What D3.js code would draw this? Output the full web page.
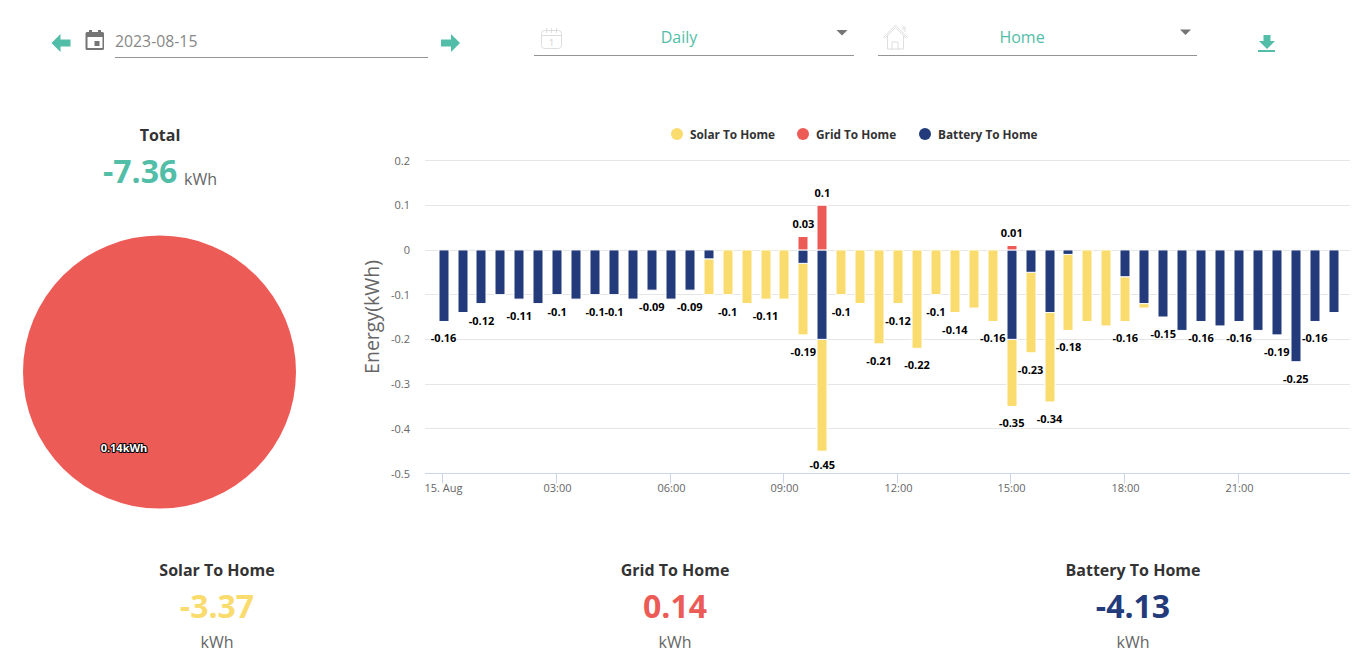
<!DOCTYPE html>
<html><head><meta charset="utf-8">
<script src="https://cdn.jsdelivr.net/npm/d3@7/dist/d3.min.js"></script>
<style>html,body{margin:0;padding:0;background:#fff;overflow:hidden}svg{display:block}text{font-family:"Open Sans",sans-serif}</style>
</head><body><svg id="c" width="1353" height="662"></svg>
<script>
const tickLabels = ["15. Aug","03:00","06:00","09:00","12:00","15:00","18:00","21:00"];
const yTicks = [0.2,0.1,0,-0.1,-0.2,-0.3,-0.4,-0.5];
const seriesNames = ["Solar To Home","Grid To Home","Battery To Home"];
const seriesTotals = ["-3.37","0.14","-4.13"];
const pieValues = [0,0.14,0];
const battery = [-.16,-.14,-.12,-.10,-.11,-.12,-.10,-.11,-.10,-.10,-.11,-.09,-.11,-.09,-.02,0,0,0,0,-.03,-.20,0,0,0,0,0,0,0,0,0,-.20,-.05,-.14,-.01,0,0,-.06,-.12,-.15,-.18,-.16,-.17,-.16,-.18,-.19,-.25,-.16,-.14];
const solar =   [0,0,0,0,0,0,0,0,0,0,0,0,0,0,-.08,-.10,-.12,-.11,-.11,-.16,-.25,-.10,-.12,-.21,-.12,-.22,-.10,-.14,-.13,-.16,-.15,-.18,-.20,-.17,-.16,-.17,-.10,-.01,0,0,0,0,0,0,0,0,0,0];
const grid = battery.map(()=>0); grid[19]=.03; grid[20]=.1; grid[30]=.01;
const labelled = [0,2,4,6,8,9,11,13,15,17,19,20,21,23,24,25,26,27,29,30,31,32,33,36,38,40,42,44,45,46];

const colors = {solar:"#f9dc6d",grid:"#ec5b56",battery:"#233b7b",teal:"#52bea8",grey:"#666"};
const svg = d3.select("#c");
const x = d3.scaleLinear().domain([0,47]).range([443.6,1333.6]);
const y = d3.scaleLinear().domain([0.2,-0.5]).range([160.5,473.5]);
const fmt = v => String(+v.toFixed(2));

// grid + y axis
svg.append("g").selectAll("line").data(yTicks.filter(d=>d!==-0.5)).join("line")
  .attr("x1",425).attr("x2",1350).attr("y1",d=>Math.round(y(d)-.3)+.5).attr("y2",d=>Math.round(y(d)-.3)+.5)
  .attr("stroke","#e6e6e6");
svg.append("g").selectAll("text").data(yTicks).join("text")
  .attr("x",410).attr("y",d=>y(d)+4).attr("text-anchor","end").attr("font-size",11).attr("fill",colors.grey)
  .text(d=>d===0?"0":d);
svg.append("text").attr("transform","translate(379,317) rotate(-90)").attr("text-anchor","middle")
  .attr("font-size",19.5).attr("fill",colors.grey).text("Energy(kWh)");

// x axis
const xa = svg.append("g").attr("transform","translate(0,473.5)");
xa.append("line").attr("x1",425).attr("x2",1350).attr("stroke","#ccd6eb");
const tk = xa.selectAll("g").data(tickLabels).join("g").attr("transform",(d,i)=>`translate(${Math.round(x(i*6)-1.3)+.5},0)`);
tk.append("line").attr("y2",10).attr("stroke","#ccd6eb");
tk.append("text").attr("y",18).attr("x",1).attr("text-anchor","middle").attr("font-size",11).attr("fill",colors.grey).text(d=>d);

// bars
const W=10;
const bars = svg.append("g").attr("stroke","#fff").attr("stroke-width",1);
function stackBars(vals,base,col){
  bars.append("g").selectAll("rect").data(vals.map((v,i)=>({v,i,b:base?base[i]:0})).filter(d=>d.v!==0)).join("rect")
    .attr("x",d=>Math.round(x(d.i))-W/2).attr("width",W)
    .attr("y",d=>Math.min(y(d.b),y(d.b+d.v)))
    .attr("height",d=>Math.abs(y(d.b+d.v)-y(d.b)))
    .attr("fill",col);
}
stackBars(solar,battery,colors.solar);
stackBars(battery,null,colors.battery);
stackBars(grid,null,colors.grid);

// data labels
const lab = svg.append("g");
function addLabels(rows,dy){
  lab.selectAll(null).data(rows).join("text")
   .attr("x",d=>x(d.i)).attr("y",d=>Math.min(y(d.v)+dy,469))
   .attr("text-anchor","middle").attr("font-size",11).attr("font-weight",700).attr("fill","#000")
   .attr("stroke","#fff").attr("stroke-width",2).attr("paint-order","stroke").attr("stroke-linejoin","round")
   .text(d=>fmt(d.v));
}
addLabels(labelled.map(i=>({i,v:battery[i]+solar[i]})),21);
addLabels(labelled.filter(i=>grid[i]>0).map(i=>({i,v:grid[i]})),-8.5);

// legend
const legX=[677,803,925], legC=[colors.solar,colors.grid,colors.battery];
const leg = svg.append("g").selectAll("g").data(seriesNames).join("g").attr("transform",(d,i)=>`translate(${legX[i]},134)`);
leg.append("circle").attr("r",6).attr("fill",(d,i)=>legC[i]);
leg.append("text").attr("x",13).attr("y",4.5).attr("font-size",11.8).attr("font-weight",700).attr("fill","#333").text(d=>d);

// pie
const pieG = svg.append("g").attr("transform","translate(159.5,372)");
const pie = d3.pie().sort(null)(pieValues);
pieG.selectAll("path").data(pie).join("path").attr("d",d3.arc().innerRadius(0).outerRadius(136.5)).attr("fill",(d,i)=>legC[i]);
pieG.append("text").attr("x",-35.5).attr("y",80).attr("text-anchor","middle").attr("font-size",11).attr("font-weight",700)
  .attr("fill","#fff").attr("stroke","#000").attr("stroke-width",2).attr("paint-order","stroke").attr("stroke-linejoin","round")
  .text(pieValues[1]+"kWh");

// totals
function t(xp,yp,s,size,col,weight,anchor){return svg.append("text").attr("x",xp).attr("y",yp).attr("font-size",size).attr("fill",col).attr("font-weight",weight||400).attr("text-anchor",anchor||"middle").text(s);}
t(160,141,"Total",16,"#333",700);
t(103,183,"-7.36",32,colors.teal,700,"start");
t(184,185,"kWh",16,colors.grey,400,"start");
const botX=[217,675,1133];
seriesNames.forEach((n,i)=>{
  t(botX[i],576,n,16,"#333",700);
  t(botX[i],618,seriesTotals[i],32,legC[i],700);
  t(botX[i],648,"kWh",16,colors.grey);
});

// header
const line=(a,b,yy)=>svg.append("line").attr("x1",a).attr("x2",b).attr("y1",yy).attr("y2",yy).attr("stroke","#949494").attr("stroke-width",1);
t(115,47,"2023-08-15",15.8,"#888",400,"start");
line(115,428,57.5); line(534,854,55.5); line(878,1197,55.5);
t(679,43,"Daily",16,colors.teal);
t(1022,43,"Home",16,colors.teal);
svg.append("path").attr("d","M51.500 43l9-9v5.500h10v7h-10V52z").attr("fill",colors.teal);
svg.append("path").attr("d","M460 43l-9-9v5.500H441v7h10V52z").attr("fill",colors.teal);
// calendar (dark)
svg.append("path").attr("fill","#757575").attr("fill-rule","evenodd")
  .attr("d","M87 32h2v-2h3v2h6v-2h3v2h1.500a1.500 1.500 0 0 1 1.500 1.500V48.500a1.500 1.500 0 0 1-1.500 1.500H87a1.500 1.500 0 0 1-1.500-1.500V33.500A1.500 1.500 0 0 1 87 32zM87.500 37v11h15V37zM94.500 41h5v5h-5z");
// dropdown carets
svg.append("path").attr("d","M836.500 30h11l-5.500 5.500z").attr("fill","#757575");
svg.append("path").attr("d","M1180 29.500h11l-5.500 5.500z").attr("fill","#757575");
// light calendar + house outlines
const lg=svg.append("g").attr("fill","none").attr("stroke","#dedede").attr("stroke-width",1);
lg.append("rect").attr("x",541.500).attr("y",30.500).attr("width",20).attr("height",18).attr("rx",3);
lg.append("path").attr("d","M541.500 35.500h20M546.500 28v5M551.500 28v5M556.500 28v5");
lg.append("text").attr("x",551.500).attr("y",46).attr("text-anchor","middle").attr("font-size",9).attr("stroke","none").attr("fill","#d0d0d0").text("1");
lg.append("path").attr("d","M883 38l12.500-13 12.500 13M885 38l10.500-10.500L906 38M887.500 36v13h16V36M892 50v-8h6v8M903 30v-3h2v5");
// download
svg.append("path").attr("d","M1263.500 35h7v6h4.500l-8 8-8-8h4.500z").attr("fill",colors.teal);
svg.append("rect").attr("x",1258).attr("y",50).attr("width",17).attr("height",2).attr("fill",colors.teal);
</script></body></html>
